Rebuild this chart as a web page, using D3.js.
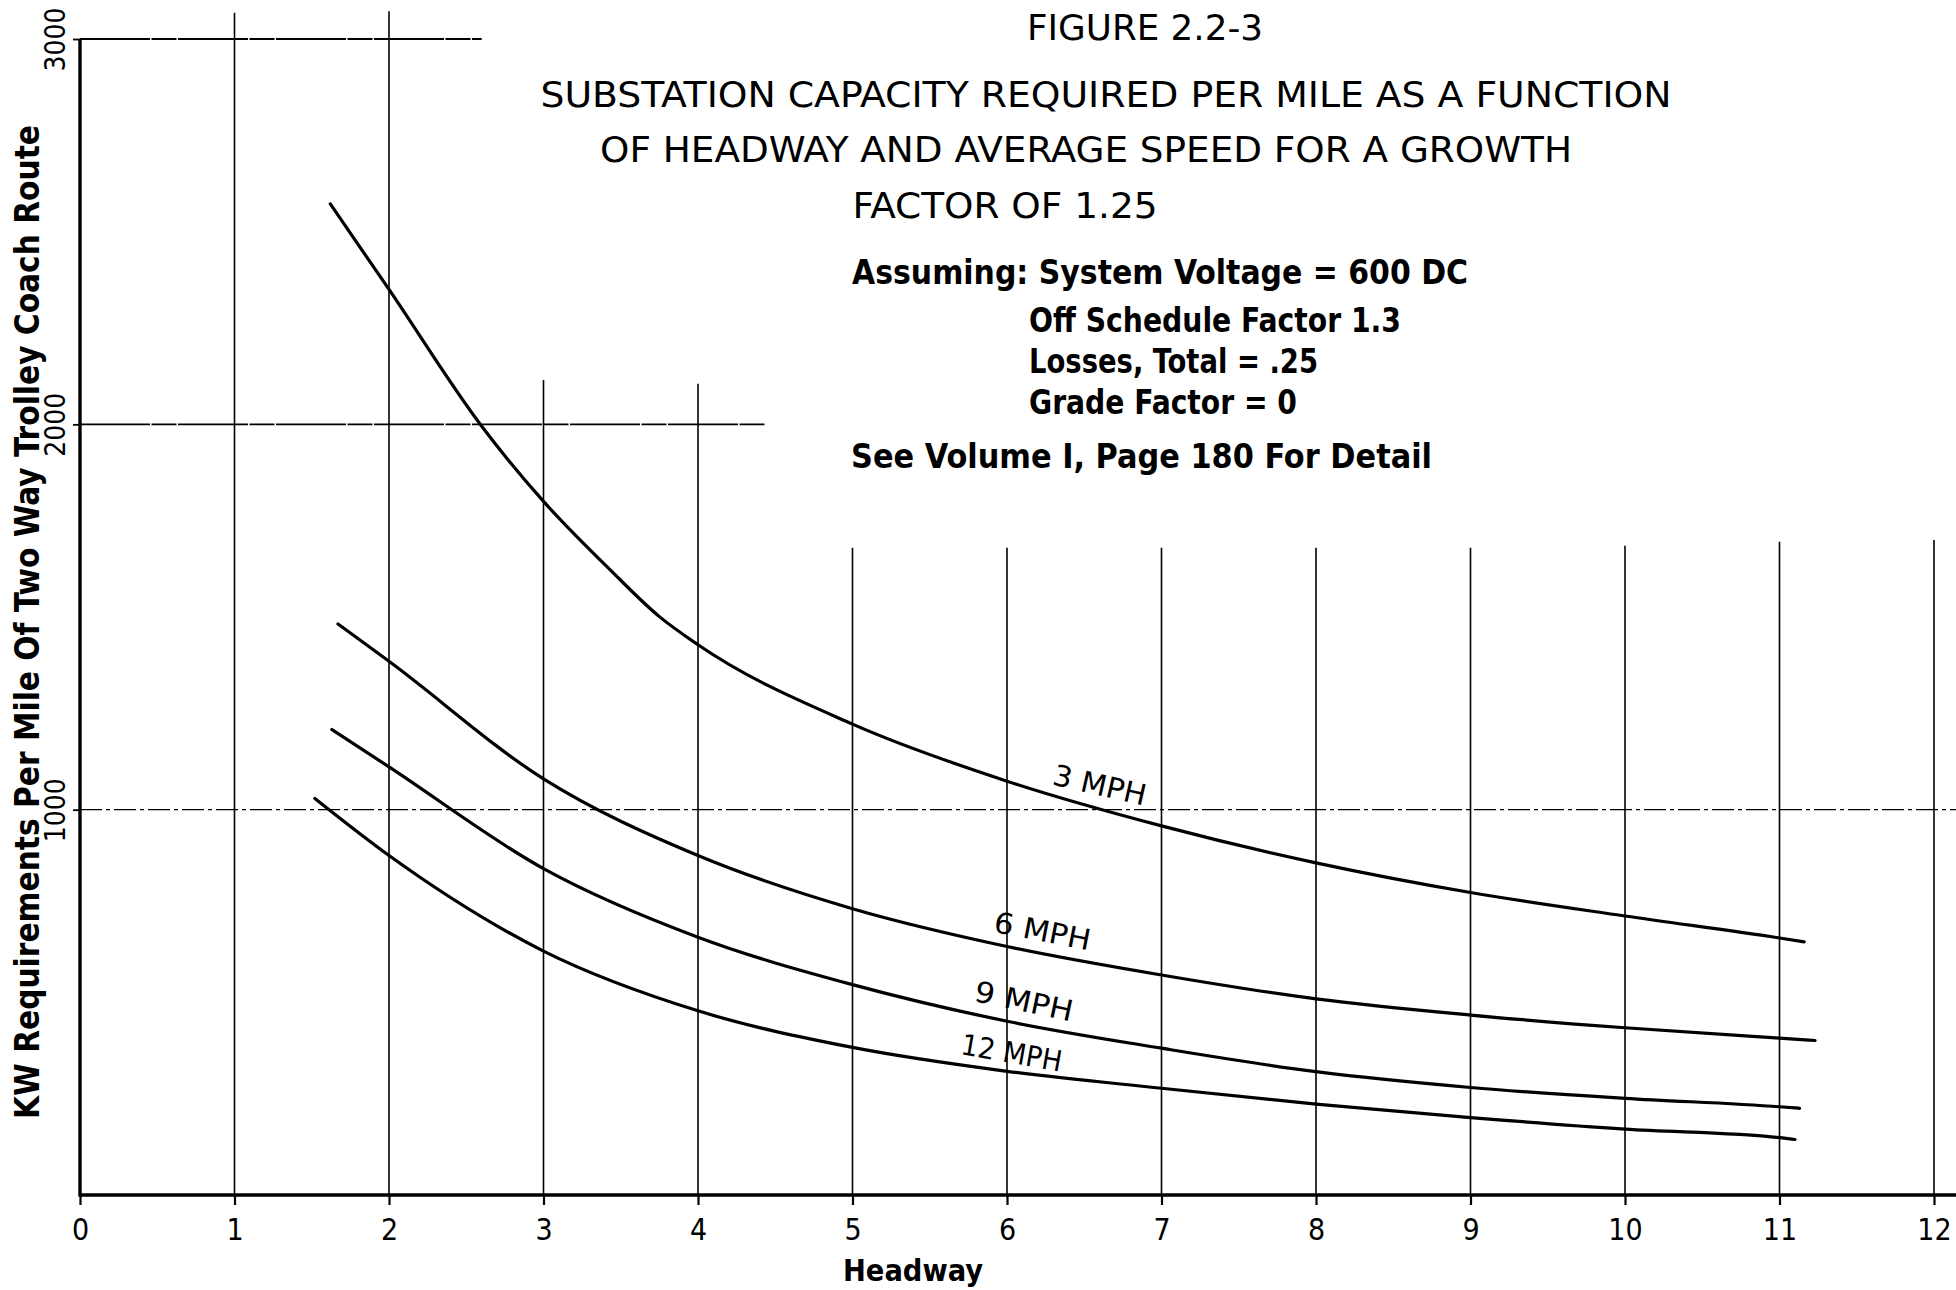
<!DOCTYPE html>
<html>
<head>
<meta charset="utf-8">
<script src="https://cdn.jsdelivr.net/npm/d3@7"></script>
<style>
  body { margin: 0; background: #fff; }
  svg { display: block; }
  text { font-family: 'Liberation Sans Narrow', 'DejaVu Sans Condensed', 'Liberation Sans', sans-serif; fill: #000; }
</style>
</head>
<body>
<svg id="chart" width="1956" height="1290"></svg>
<script>
// headway (x) and KW per mile (y)
const headwayTicks = [0, 1, 2, 3, 4, 5, 6, 7, 8, 9, 10, 11, 12];
const kwTicks = [1000, 2000, 3000];
const speeds = ['3 MPH', '6 MPH', '9 MPH', '12 MPH'];

const headway3 = [1.62, 2, 2.6, 3, 3.43, 3.75, 4, 5, 6, 7, 8, 9, 10, 11, 11.16];
const kw3 = [2572, 2350, 1995, 1800, 1623, 1501, 1428, 1222, 1074, 958, 862, 785, 724, 667, 657];
const headway6 = [1.67, 2, 3, 4, 5, 6, 7, 8, 9, 10, 11, 11.23];
const kw6 = [1482, 1385, 1080, 881, 743, 645, 571, 509, 467, 434, 407, 401];
const headway9 = [1.63, 2, 3, 4, 5, 6, 7, 8, 9, 10, 11, 11.13];
const kw9 = [1208, 1111, 847, 669, 546, 451, 381, 320, 279, 251, 229, 225];
const headway12 = [1.52, 2, 3, 4, 5, 6, 7, 8, 9, 10, 11, 11.1];
const kw12 = [1029, 881, 633, 478, 383, 321, 277, 236, 201, 171, 149, 144];

const titleLines = [
  'FIGURE 2.2-3',
  'SUBSTATION CAPACITY REQUIRED PER MILE AS A FUNCTION',
  'OF HEADWAY AND AVERAGE SPEED FOR A GROWTH',
  'FACTOR OF 1.25'
];
const noteLines = [
  'Assuming: System Voltage = 600 DC',
  'Off Schedule Factor 1.3',
  'Losses, Total = .25',
  'Grade Factor = 0',
  'See Volume I, Page 180 For Detail'
];

function drawChart() {
  const svg = d3.select('svg#chart');
  const x = d3.scaleLinear().domain([0, 12]).range([80, 1934]);
  const y = d3.scaleLinear().domain([0, 3000]).range([1195, 39]);

  svg.append('rect').attr('width', 1956).attr('height', 1290).attr('fill', '#fff');

  // grid, drawn partly like the original sheet
  const grid = svg.append('g').attr('stroke', '#000').attr('stroke-width', 1.6);
  const vTops = {1: 3068, 2: 3072, 3: 2115, 4: 2105, 5: 1680, 6: 1680, 7: 1680, 8: 1680,
                 9: 1680, 10: 1685, 11: 1695, 12: 1700};
  headwayTicks.slice(1).forEach((h) => {
    grid.append('line')
      .attr('x1', x(h)).attr('x2', x(h))
      .attr('y1', y(vTops[h])).attr('y2', y(0));
  });
  grid.append('line')
    .attr('x1', x(0)).attr('x2', x(2.6))
    .attr('y1', y(3000)).attr('y2', y(3000))
    .attr('stroke-width', 1.8)
    .attr('stroke-dasharray', '70,1.5,25,1.5');
  grid.append('line')
    .attr('x1', x(0)).attr('x2', x(4.43))
    .attr('y1', y(2000)).attr('y2', y(2000))
    .attr('stroke-width', 1.8)
    .attr('stroke-dasharray', '70,1.5,25,1.5');
  grid.append('line')
    .attr('x1', x(0)).attr('x2', 1956)
    .attr('y1', y(1000)).attr('y2', y(1000))
    .attr('stroke-width', 1.4)
    .attr('stroke-dasharray', '22,4,4,4');

  // axes
  const xAxis = svg.append('g')
    .attr('transform', `translate(0,${y(0)})`)
    .call(d3.axisBottom(x).tickValues(headwayTicks).tickSize(10).tickFormat(d3.format('d')));
  xAxis.select('.domain').remove();
  xAxis.selectAll('.tick line').attr('stroke-width', 2.2);
  xAxis.selectAll('.tick text')
    .attr('y', 45).attr('dy', 0)
    .style('font-size', '30px');
  svg.append('line')
    .attr('x1', x(0)).attr('x2', 1956)
    .attr('y1', y(0)).attr('y2', y(0))
    .attr('stroke', '#000').attr('stroke-width', 3.6);

  const yAxis = svg.append('g')
    .attr('transform', `translate(${x(0)},0)`)
    .call(d3.axisLeft(y).tickValues(kwTicks).tickSize(7).tickFormat(d3.format('d')));
  yAxis.select('.domain').remove();
  yAxis.selectAll('.tick line').attr('stroke-width', 1.8);
  yAxis.selectAll('.tick text')
    .attr('x', 0).attr('y', 0).attr('dy', 0)
    .attr('text-anchor', 'middle')
    .attr('textLength', 64)
    .attr('lengthAdjust', 'spacingAndGlyphs')
    .attr('transform', 'translate(-15,0) rotate(-90)')
    .style('font-size', '28px');
  svg.append('line')
    .attr('x1', x(0)).attr('x2', x(0))
    .attr('y1', y(3000)).attr('y2', y(0) + 1.8)
    .attr('stroke', '#000').attr('stroke-width', 3.4);

  // curves
  const series = [
    {name: speeds[0], xs: headway3, ys: kw3, at: [6.60, 1064], angle: 13, w: 95},
    {name: speeds[1], xs: headway6, ys: kw6, at: [6.23, 685], angle: 11, w: 98},
    {name: speeds[2], xs: headway9, ys: kw9, at: [6.11, 503], angle: 12, w: 100},
    {name: speeds[3], xs: headway12, ys: kw12, at: [6.03, 369], angle: 10, w: 102}
  ];
  const line = d3.line()
    .x((d) => x(d[0]))
    .y((d) => y(d[1]))
    .curve(d3.curveMonotoneX);
  svg.append('g').selectAll('path').data(series).enter()
    .append('path')
    .attr('d', (s) => line(s.xs.map((h, i) => [h, s.ys[i]])))
    .attr('fill', 'none')
    .attr('stroke', '#000')
    .attr('stroke-width', 3.2)
    .attr('stroke-linecap', 'round');

  svg.append('g').selectAll('text').data(series).enter()
    .append('text')
    .attr('transform', (s) => `translate(${x(s.at[0])},${y(s.at[1])}) rotate(${s.angle})`)
    .attr('text-anchor', 'middle')
    .attr('dy', '0.35em')
    .attr('textLength', (s) => s.w)
    .attr('lengthAdjust', 'spacingAndGlyphs')
    .style('font-size', '29px')
    .text((s) => s.name);

  // titles
  const titleBoxes = [[1145, 40, 236], [1106, 107, 1131], [1086, 162, 972], [1005, 218, 305]];
  titleLines.forEach((t, i) => {
    svg.append('text')
      .attr('x', titleBoxes[i][0]).attr('y', titleBoxes[i][1])
      .attr('text-anchor', 'middle')
      .attr('textLength', titleBoxes[i][2])
      .attr('lengthAdjust', 'spacingAndGlyphs')
      .style('font-size', '36px')
      .text(t);
  });
  const noteBoxes = [[852, 284, 616], [1029, 332, 372], [1029, 373, 289], [1029, 414, 268], [851, 468, 581]];
  noteLines.forEach((t, i) => {
    svg.append('text')
      .attr('x', noteBoxes[i][0]).attr('y', noteBoxes[i][1])
      .attr('textLength', noteBoxes[i][2])
      .attr('lengthAdjust', 'spacingAndGlyphs')
      .style('font-size', '34px')
      .style('font-weight', 'bold')
      .text(t);
  });

  svg.append('text')
    .attr('x', 913).attr('y', 1281)
    .attr('text-anchor', 'middle')
    .attr('textLength', 140)
    .attr('lengthAdjust', 'spacingAndGlyphs')
    .style('font-size', '31px')
    .style('font-weight', 'bold')
    .text('Headway');

  svg.append('text')
    .attr('transform', 'translate(27,622) rotate(-90)')
    .attr('text-anchor', 'middle')
    .attr('dy', '0.35em')
    .attr('textLength', 994)
    .attr('lengthAdjust', 'spacingAndGlyphs')
    .style('font-size', '34px')
    .style('font-weight', 'bold')
    .text('KW Requirements Per Mile Of Two Way Trolley Coach Route');
}

window.addEventListener('load', drawChart);
</script>
</body>
</html>
